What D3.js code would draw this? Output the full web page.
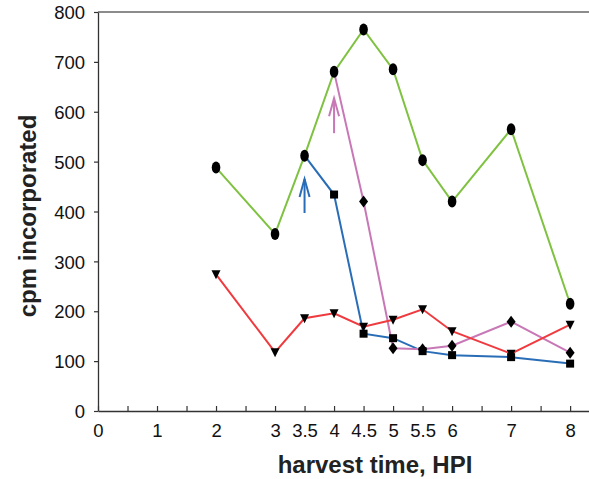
<!DOCTYPE html>
<html>
<head>
<meta charset="utf-8">
<script src="https://cdn.jsdelivr.net/npm/d3@7/dist/d3.min.js"></script>
<style>
  body { margin: 0; background: #fff; }
  svg { display: block; font-family: "Liberation Sans", Arial, sans-serif; }
  .tick text { font-size: 18.5px; fill: #111; }
  .axis-label { font-size: 24px; font-weight: bold; fill: #222; }
</style>
</head>
<body>
<svg id="chart" width="589" height="479"></svg>
<script>
// series values, hours post infection vs cpm
const greenX = [2, 3, 3.5, 4, 4.5, 5, 5.5, 6, 7, 8];
const greenY = [488, 355, 512, 680, 765, 685, 503, 420, 565, 215];

const blueX = [3.5, 4, 4.5, 5, 5.5, 6, 7, 8];
const blueY = [512, 434, 155, 146, 120, 112, 108, 95];

const pinkX = [4, 4.5, 5, 5.5, 6, 7, 8];
const pinkY = [680, 420, 126, 124, 131, 179, 117];

const redX = [2, 3, 3.5, 4, 4.5, 5, 5.5, 6, 7, 8];
const redY = [274, 118, 186, 196, 169, 183, 204, 160, 115, 173];

const xTickValues = d3.range(0, 8.01, 0.5);
const xTickLabels = ["0", "", "1", "", "2", "", "3", "3.5", "4", "4.5", "5", "5.5", "6", "", "7", "", "8"];
const yTickValues = [0, 100, 200, 300, 400, 500, 600, 700, 800];

// arrows: [x, from, to]
const blueArrow = [3.5, 397, 465];
const pinkArrow = [4, 557, 627];

const W = 589, H = 479;
const margin = { top: 12, right: 0, bottom: 68, left: 98 };

const svg = d3.select("#chart");

const x = d3.scaleLinear().domain([0, 8.32]).range([margin.left, W - margin.right]);
const y = d3.scaleLinear().domain([0, 800]).range([H - margin.bottom, margin.top]);

// top frame line
svg.append("line")
  .attr("x1", x(0)).attr("x2", x(8.32))
  .attr("y1", y(800)).attr("y2", y(800))
  .attr("stroke", "#666").attr("stroke-width", 1.3);

const xAxis = svg.append("g")
  .attr("transform", `translate(0,${y(0)})`)
  .call(d3.axisBottom(x).tickValues(xTickValues).tickSizeInner(-5).tickSizeOuter(0)
    .tickFormat((d, i) => xTickLabels[i]));
xAxis.select(".domain").attr("stroke", "#333").attr("stroke-width", 1.3);
xAxis.selectAll(".tick line").attr("stroke", "#333").attr("stroke-width", 1.2);
xAxis.selectAll(".tick text").attr("y", 26).attr("dy", null);

const yAxis = svg.append("g")
  .attr("transform", `translate(${x(0)},0)`)
  .call(d3.axisLeft(y).tickValues(yTickValues).tickSizeInner(4).tickSizeOuter(0));
yAxis.select(".domain").attr("stroke", "#333").attr("stroke-width", 1.3);
yAxis.selectAll(".tick line").attr("stroke", "#333").attr("stroke-width", 1.2);
yAxis.selectAll(".tick text").attr("x", -13).attr("dy", "0.36em");

svg.append("text").attr("class", "axis-label")
  .attr("text-anchor", "middle")
  .attr("transform", `translate(36,216) rotate(-90)`)
  .text("cpm incorporated");

svg.append("text").attr("class", "axis-label")
  .attr("text-anchor", "middle")
  .attr("x", 375).attr("y", 473)
  .text("harvest time, HPI");

const line = d3.line().x((d) => x(d[0])).y((d) => y(d[1]));

function series(xs, ys, color) {
  const pts = xs.map((v, i) => [v, ys[i]]);
  svg.append("path").datum(pts)
    .attr("fill", "none").attr("stroke", color).attr("stroke-width", 2)
    .attr("d", line);
  return pts;
}

const greenPts = series(greenX, greenY, "#7fc241");
const bluePts = series(blueX, blueY, "#2a6db7");
const pinkPts = series(pinkX, pinkY, "#c878b6");
const redPts = series(redX, redY, "#ef3b3f");

// markers
svg.append("g").selectAll("rect").data(bluePts.slice(1)).join("rect")
  .attr("x", (d) => x(d[0]) - 4).attr("y", (d) => y(d[1]) - 4)
  .attr("width", 8).attr("height", 8).attr("fill", "#000");

svg.append("g").selectAll("path").data(pinkPts.slice(1)).join("path")
  .attr("d", (d) => {
    const cx = x(d[0]), cy = y(d[1]);
    return `M${cx},${cy - 6}L${cx + 4.5},${cy}L${cx},${cy + 6}L${cx - 4.5},${cy}Z`;
  })
  .attr("fill", "#000");

svg.append("g").selectAll("path").data(redPts).join("path")
  .attr("d", (d) => {
    const cx = x(d[0]), cy = y(d[1]);
    return `M${cx - 4.5},${cy - 4}L${cx + 4.5},${cy - 4}L${cx},${cy + 5}Z`;
  })
  .attr("fill", "#000");

svg.append("g").selectAll("ellipse").data(greenPts).join("ellipse")
  .attr("cx", (d) => x(d[0])).attr("cy", (d) => y(d[1]))
  .attr("rx", 4.3).attr("ry", 6).attr("fill", "#000");

function arrow(a, color) {
  const ax = x(a[0]), y1 = y(a[1]), y2 = y(a[2]);
  const g = svg.append("g").attr("stroke", color).attr("stroke-width", 2).attr("fill", "none");
  g.append("line").attr("x1", ax).attr("x2", ax).attr("y1", y1).attr("y2", y2);
  g.append("path").attr("d", `M${ax - 5},${y2 + 18}L${ax},${y2}L${ax + 5},${y2 + 18}`);
}
arrow(blueArrow, "#2a6db7");
arrow(pinkArrow, "#c878b6");
</script>
</body>
</html>
